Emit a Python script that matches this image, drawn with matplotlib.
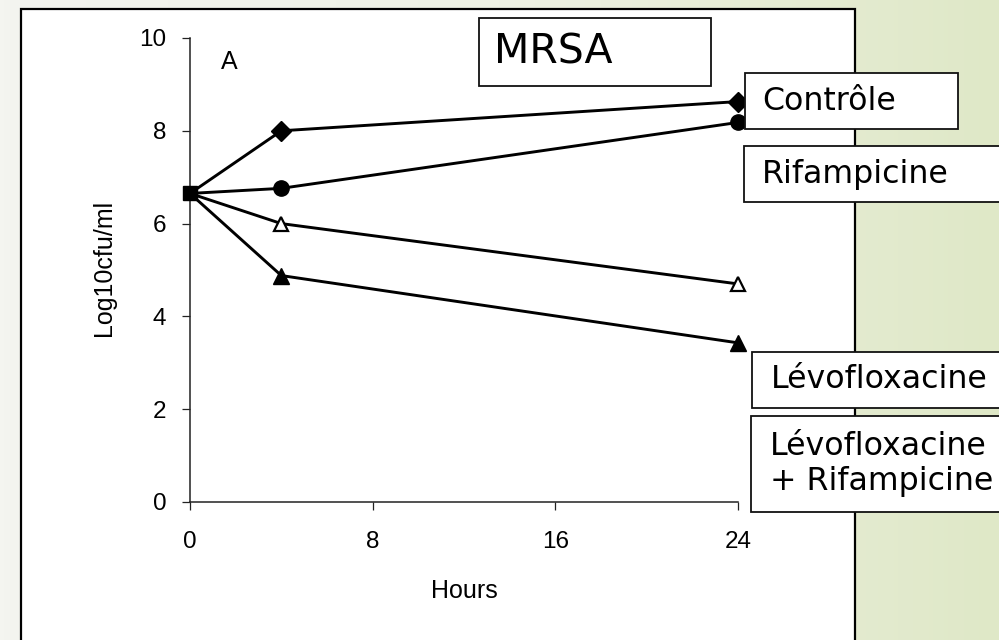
import matplotlib
matplotlib.use("Agg")
import matplotlib.pyplot as plt
import numpy as np
from matplotlib.patches import Rectangle
from matplotlib.colors import LinearSegmentedColormap

# ---- data ----
hours = [0, 4, 24]
controle = [6.65, 8.0, 8.63]
rifampicine = [6.65, 6.76, 8.18]
levofloxacine = [6.65, 6.0, 4.70]
levo_rif = [6.65, 4.88, 3.43]
x_ticks = [0, 8, 16, 24]
y_ticks = [0, 2, 4, 6, 8, 10]
box_labels = ["Contrôle", "Rifampicine", "Lévofloxacine", "Lévofloxacine\n+ Rifampicine"]
title_box = "MRSA"
panel_letter = "A"

W, H = 999, 640
fig = plt.figure(figsize=(W / 100, H / 100), dpi=100)

def fx(px):
    return px / W

def fy(py):
    return 1 - py / H

# background gradient
bg = fig.add_axes([0, 0, 1, 1], zorder=-5)
cmap = LinearSegmentedColormap.from_list("bg", ["#f4f5f0", "#eef2e4", "#dfe8c7"])
grad = np.linspace(0, 1, 256).reshape(1, -1)
bg.imshow(grad, aspect="auto", cmap=cmap, extent=[0, 1, 0, 1], origin="lower")
bg.set_xlim(0, 1)
bg.set_ylim(0, 1)
bg.axis("off")
# white frame
bg.add_patch(Rectangle((fx(21), fy(660)), fx(855) - fx(21), fy(9) - fy(660),
                       facecolor="white", edgecolor="black", linewidth=1.6))

# main axes
ax = fig.add_axes([fx(190), fy(502), fx(738) - fx(190), fy(38) - fy(502)], zorder=1)
ax.patch.set_alpha(0)
ax.set_xlim(0, 24)
ax.set_ylim(0, 10)
for s in ["top", "right"]:
    ax.spines[s].set_visible(False)
for s in ["left", "bottom"]:
    ax.spines[s].set_linewidth(1.1)
    ax.spines[s].set_color("#222222")
ax.set_xticks(x_ticks)
ax.set_yticks(y_ticks)
tickfont = "Liberation Sans"
ax.tick_params(axis="both", direction="out", length=6, width=0.9, color="#222222")
ax.tick_params(axis="y", pad=11)
ax.tick_params(axis="x", pad=15)
for lab in ax.get_xticklabels() + ax.get_yticklabels():
    lab.set_fontfamily(tickfont)
    lab.set_fontsize(17.5)

ax.set_xlabel("Hours", fontfamily=tickfont, fontsize=18)
ax.xaxis.set_label_coords(0.5, -0.192)
ax.xaxis.label.set_va("center")
ax.set_ylabel("Log10cfu/ml", fontfamily=tickfont, fontsize=18)
ax.yaxis.set_label_coords(-0.157, 0.504)
ax.yaxis.label.set_va("center")

lw = 2.1
ax.plot(hours, controle, color="black", lw=lw, marker="D", ms=10, mfc="black", mec="black",
        markevery=[1, 2], clip_on=False, zorder=3)
ax.plot(hours, rifampicine, color="black", lw=lw, marker="o", ms=11, mfc="black", mec="black",
        markevery=[1, 2], clip_on=False, zorder=3)
ax.plot(hours, levofloxacine, color="black", lw=lw, marker="^", ms=10.5, mfc="white", mec="black",
        mew=1.6, markevery=[1, 2], clip_on=False, zorder=3)
ax.plot(hours, levo_rif, color="black", lw=lw, marker="^", ms=11.5, mfc="black", mec="black",
        markevery=[1, 2], clip_on=False, zorder=3)
# common starting point
ax.plot(hours[:1], controle[:1], marker="s", ms=10.5, color="black", clip_on=False, zorder=4)

ax.text(1.7, 9.48, panel_letter, fontfamily=tickfont, fontsize=18, ha="center", va="center")

# overlay for label boxes
ov = fig.add_axes([0, 0, 1, 1], zorder=5)
ov.set_xlim(0, 1)
ov.set_ylim(0, 1)
ov.axis("off")
ov.patch.set_alpha(0)

def box(x0, y0, x1, y1):
    ov.add_patch(Rectangle((fx(x0), fy(y1)), fx(x1) - fx(x0), fy(y0) - fy(y1),
                           facecolor="white", edgecolor="#111111", linewidth=1.3))

boxfont = "DejaVu Sans"
box(479, 18, 711, 86)
ov.text(fx(494), fy(52), title_box, fontfamily=boxfont, fontsize=29.5, ha="left", va="center")

box(745, 73, 958, 129)
ov.text(fx(762), fy(101), box_labels[0], fontfamily=boxfont, fontsize=22.8, ha="left", va="center")
box(744, 146, 1010, 202)
ov.text(fx(762), fy(174), box_labels[1], fontfamily=boxfont, fontsize=22.8, ha="left", va="center")
box(752, 352, 1010, 408)
ov.text(fx(771), fy(380), box_labels[2], fontfamily=boxfont, fontsize=22.8, ha="left", va="center")
box(751, 416, 1010, 512)
ov.text(fx(770), fy(464), box_labels[3], fontfamily=boxfont, fontsize=22.8, ha="left", va="center",
        linespacing=1.2)

fig.savefig("out.png", dpi=100)
